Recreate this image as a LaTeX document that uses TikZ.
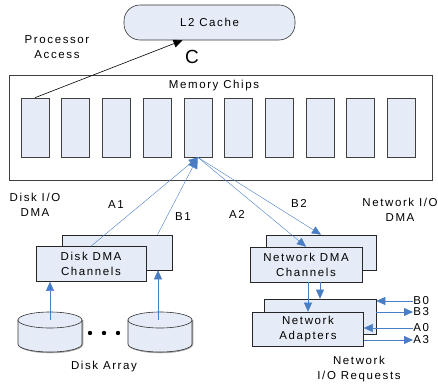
\documentclass[tikz,border=0pt]{standalone}
\usepackage{fontspec}
\setmainfont[LetterSpace=14]{Liberation Sans}
\usepackage{xcolor}
\usetikzlibrary{arrows.meta}
\usetikzlibrary{positioning}
\definecolor{boxfill}{HTML}{E6ECF7}
\definecolor{flowblue}{HTML}{4A7EC4}

\begin{document}
\begin{tikzpicture}[x=1pt, y=-1pt, semithick, font=\fontsize{11.5}{15}\selectfont]
    \tikzstyle{chip}=[draw=black!75, fill=boxfill, minimum width=28pt, minimum height=59pt, inner sep=0pt]
    \tikzstyle{unit}=[draw=black!85, fill=boxfill, minimum width=110pt, minimum height=35pt, align=center, inner sep=0pt]
    \tikzstyle{flow}=[flowblue, thin, -{Triangle[length=9pt,width=8pt]}]
    \tikzstyle{lbl}=[align=center, inner sep=0pt]
\useasboundingbox (0,0) rectangle (438,387);
% cache and memory
    \node[draw=black!80, fill=boxfill, rounded corners=16pt, minimum width=171pt, minimum height=35pt] (cache) at (209.5,22.5) {L2 Cache};
    \node[draw=black!75, minimum width=423pt, minimum height=105pt] (memory) at (220.5,127.5) {};
    \node[lbl] (memlabel) at (214,86) {Memory Chips};
\foreach \i in {1,...,10}{
    \node[chip] (chip_\i) at (35+40.7*\i-40.7, 127.5) {};
      }
    \draw[-{Triangle[length=9pt,width=8pt]}] (chip_1.north) -- ([xshift=-27pt]cache.south);
    \node[lbl] (proc) at (57,47) {Processor\\Access};
    \node[lbl, font=\fontsize{19}{19}\selectfont] (c) at (192,57) {C};
% disk side
    \node[unit] (diskback) at (117.5,252.5) {};
    \node[unit] (diskdma) at (91,264) {Disk DMA\\Channels};
    \draw[flow] (diskdma.north) -- (chip_5.south);
    \draw[flow, -{Triangle[length=11pt,width=10pt]}] ([xshift=40pt]diskback.north) -- (chip_5.south);
    \node[lbl] (diskio) at (35,205) {Disk I/O\\DMA};
    \node[lbl] (a1) at (116,205) {A1};
    \node[lbl] (b1) at (183,217) {B1};
\foreach \n/\x in {1/50,2/160}{
    \coordinate (disk_\n) at (\x,320);
    \draw[gray!70, line width=1.5pt] ([xshift=32.5pt,yshift=0pt]disk_\n) -- ++(0,24) arc[start angle=0, end angle=-180, x radius=32pt, y radius=8.5pt];
    \draw[black!80, fill=boxfill] ([xshift=-32pt]disk_\n) -- ++(0,24) arc[start angle=180, end angle=360, x radius=32pt, y radius=8pt] -- ++(0,-24) -- cycle;
    \draw[black!80, fill=boxfill] (disk_\n) ellipse [x radius=32pt, y radius=8pt];
    }
    \draw[flow] (disk_1) -- (disk_1 |- diskdma.south);
    \draw[flow] ([xshift=-2pt]disk_2) -- ([xshift=-2pt]disk_2 |- diskback.south);
\foreach \x in {90,104,118}{
    \fill (\x,333) circle (2.2pt);
    }
    \node[lbl] (diskarray) at (104,367) {Disk Array};
% network side
    \node[unit] (netback) at (321,252.5) {};
    \node[unit, minimum width=112pt] (netdma) at (306,264.5) {Network DMA\\Channels};
    \draw[flow] (chip_5.south) -- (netdma.north);
    \draw[flow] (chip_5.south) -- (netback.north);
    \node[lbl] (a2) at (237,214) {A2};
    \node[lbl] (b2) at (299,203) {B2};
    \node[lbl] (netio) at (400,210) {Network I/O\\DMA};
    \node[unit, minimum width=112pt, minimum height=35pt] (netback2) at (320,316.5) {};
    \node[unit, minimum width=111pt, minimum height=34pt] (netadapt) at (308,329) {Network\\Adapters};
    \draw[flow] (netdma.south -| netadapt.north) -- (netadapt.north);
    \draw[flow] (netback2.north |- netdma.south) -- (netback2.north);
\foreach \nm/\y in {B0/301,B3/312,A0/328,A3/340}{
    \node[lbl, anchor=west] (req_\nm) at (413,\y) {\nm};
    }
    \draw[flow] (req_B0.west) -- (req_B0.west -| netback2.east);
    \draw[flow] (req_B3.west -| netback2.east) -- (req_B3.west);
    \draw[flow] (req_A0.west) -- (req_A0.west -| netadapt.east);
    \draw[flow] (req_A3.west -| netadapt.east) -- (req_A3.west);
    \node[lbl] (netreq) at (359,369) {Network\\I/O Requests};
   \end{tikzpicture}
\end{document}
